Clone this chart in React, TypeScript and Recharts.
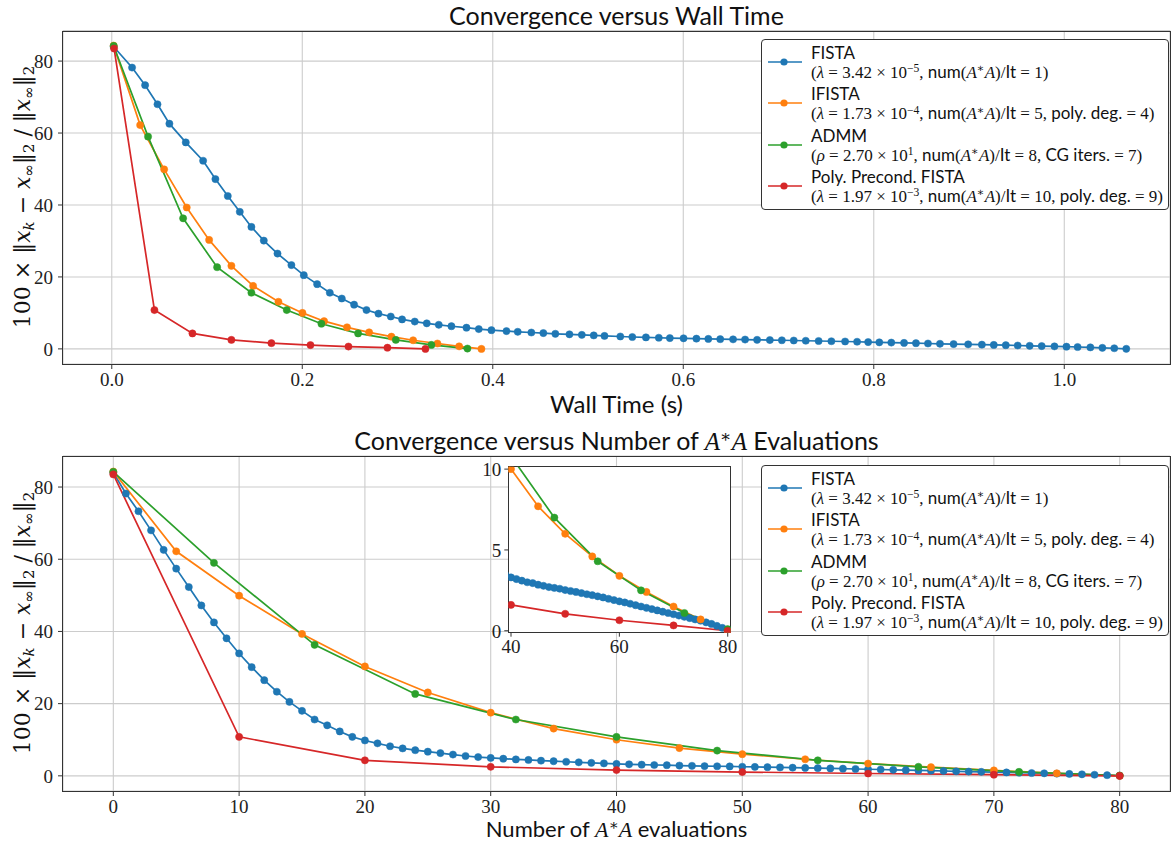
import React from 'react';
import { LineChart, Line, XAxis, YAxis, CartesianGrid } from 'recharts';

const COLORS = ['#1f77b4', '#ff7f0e', '#2ca02c', '#d62728'];
const methodNames = ['FISTA', 'IFISTA', 'ADMM', 'Poly. Precond. FISTA'];
const evalsPerIter = [1, 5, 8, 10];

// legend parameter text pieces
const paramSymbols = ['λ', 'λ', 'ρ', 'λ'];
const paramMantissas = ['3.42', '1.73', '2.70', '1.97'];
const paramExponents = ['−5', '−4', '1', '−3'];
const extraLabels = ['', 'poly. deg.', 'CG iters.', 'poly. deg.'];
const extraValues = ['', '4', '7', '9'];

// 100 * relative error per iteration
const fistaErr = [
  84.0, 78.2, 73.3, 68.0, 62.6, 57.4, 52.3, 47.2, 42.5, 38.1,
  33.9, 30.1, 26.5, 23.3, 20.5, 18.0, 15.6, 14.0, 12.3, 10.8,
  9.8, 9.0, 8.2, 7.6, 7.1, 6.7, 6.3, 5.9, 5.5, 5.2,
  4.95, 4.75, 4.55, 4.4, 4.2, 4.05, 3.9, 3.75, 3.6, 3.45,
  3.3, 3.2, 3.1, 3.0, 2.95, 2.85, 2.78, 2.7, 2.65, 2.6,
  2.52, 2.46, 2.4, 2.33, 2.26, 2.2, 2.13, 2.06, 1.98, 1.9,
  1.82, 1.75, 1.67, 1.58, 1.5, 1.42, 1.34, 1.26, 1.18, 1.1,
  1.02, 0.94, 0.86, 0.78, 0.7, 0.62, 0.52, 0.42, 0.3, 0.18,
  0.02,
];
const ifistaErr = [84.3, 62.2, 49.9, 39.3, 30.3, 23.1, 17.5, 13.1, 10.0, 7.7, 6.0, 4.6, 3.4, 2.4, 1.5, 0.7, 0.0];
const admmErr = [84.2, 59.0, 36.3, 22.7, 15.6, 10.8, 7.0, 4.3, 2.5, 1.1, 0.1];
const polyErr = [83.5, 10.8, 4.3, 2.5, 1.6, 1.05, 0.65, 0.33, 0.0];

// wall time (s) per iteration
const fistaTime = [
  0.002, 0.0213, 0.035, 0.048, 0.0605, 0.0777, 0.0959, 0.1088, 0.1218, 0.1344,
  0.1466, 0.1596, 0.174, 0.1886, 0.2016, 0.2156, 0.2289, 0.2415, 0.2544, 0.2674,
  0.28, 0.2929, 0.3048, 0.3181, 0.3307, 0.3433, 0.3566, 0.3724, 0.3853, 0.3986,
  0.4144, 0.4262, 0.4405, 0.4531, 0.4657, 0.4805, 0.4935, 0.506, 0.5173, 0.5339,
  0.5465, 0.5608, 0.5743, 0.5859, 0.6003, 0.6138, 0.6263, 0.6388, 0.6523, 0.6649,
  0.6775, 0.6909, 0.7035, 0.716, 0.7286, 0.7421, 0.7555, 0.7699, 0.7825, 0.7941,
  0.8058, 0.8184, 0.8318, 0.8443, 0.8569, 0.8695, 0.8838, 0.8991, 0.9135, 0.926,
  0.9386, 0.9511, 0.9637, 0.9763, 0.9897, 1.0023, 1.014, 1.0274, 1.04, 1.0525,
  1.0651,
];
const ifistaTime = [0.002, 0.0298, 0.055, 0.0787, 0.1022, 0.1256, 0.1484, 0.175, 0.2002, 0.2229, 0.247, 0.2702, 0.2936, 0.3164, 0.3419, 0.3647, 0.3881];
const admmTime = [0.002, 0.0381, 0.0749, 0.1106, 0.1466, 0.1837, 0.2201, 0.2586, 0.2982, 0.3356, 0.3734];
const polyTime = [0.0024, 0.0448, 0.0847, 0.1256, 0.1676, 0.2086, 0.2485, 0.2894, 0.3293];

const timeTicks = [0, 0.2, 0.4, 0.6, 0.8, 1.0];
const evalTicks = [0, 10, 20, 30, 40, 50, 60, 70, 80];
const errTicks = [0, 20, 40, 60, 80];
const insetEvalTicks = [40, 60, 80];
const insetErrTicks = [0, 5, 10];

const errs = [fistaErr, ifistaErr, admmErr, polyErr];
const times = [fistaTime, ifistaTime, admmTime, polyTime];
const timeSeries = errs.map((e, s) => e.map((v, i) => ({ x: times[s][i], y: v })));
const evalSeries = errs.map((e, s) => e.map((v, i) => ({ x: i * evalsPerIter[s], y: v })));

const serif = '"Liberation Serif", "DejaVu Serif", serif';
const sans = 'Lato, "DejaVu Sans", sans-serif';
const tickStyle = { fontFamily: serif, fontSize: 19, fill: '#222' };
const supStyle: React.CSSProperties = { fontSize: '0.68em', position: 'relative', top: '-0.5em', lineHeight: 0 };
const subStyle: React.CSSProperties = { fontSize: '0.68em', position: 'relative', top: '0.3em', lineHeight: 0 };

const renderLines = (series: { x: number; y: number }[][]) =>
  series.map((d, s) => (
    <Line
      key={s}
      data={d}
      dataKey="y"
      type="linear"
      stroke={COLORS[s]}
      strokeWidth={1.7}
      dot={{ r: 3.6, fill: COLORS[s], stroke: COLORS[s], strokeWidth: 0.5 }}
      activeDot={false}
      isAnimationActive={false}
    />
  ));

function Params({ i }: { i: number }) {
  return (
    <span style={{ fontFamily: serif }}>
      (<i>{paramSymbols[i]}</i> = {paramMantissas[i]} × 10<span style={supStyle}>{paramExponents[i]}</span>,{' '}
      <span style={{ fontFamily: sans }}>num</span>(<i>A</i><span style={supStyle}>∗</span><i>A</i>)/
      <span style={{ fontFamily: sans }}>It</span> = {evalsPerIter[i]}
      {extraLabels[i] ? (
        <>
          , <span style={{ fontFamily: sans }}>{extraLabels[i]}</span> = {extraValues[i]}
        </>
      ) : null}
      )
    </span>
  );
}

function LegendBox({ left, top }: { left: number; top: number }) {
  return (
    <div
      style={{
        position: 'absolute', left, top, width: 408, height: 171, boxSizing: 'border-box',
        border: '1.3px solid #333', borderRadius: 4, background: '#fff', color: '#111',
      }}
    >
      {methodNames.map((name, i) => (
        <div key={i} style={{ position: 'absolute', left: 0, top: i * 41.3, width: 400, height: 41 }}>
          <svg style={{ position: 'absolute', left: 5, top: 17 }} width={36} height={10}>
            <line x1={1} y1={5} x2={35} y2={5} stroke={COLORS[i]} strokeWidth={1.7} />
            <circle cx={17} cy={5} r={3.6} fill={COLORS[i]} />
          </svg>
          <div style={{ position: 'absolute', left: 49, top: 3, fontFamily: sans, fontSize: 17, lineHeight: '19px', whiteSpace: 'nowrap' }}>
            {name}
          </div>
          <div style={{ position: 'absolute', left: 49, top: 22, fontSize: 17, lineHeight: '19px', whiteSpace: 'nowrap' }}>
            <Params i={i} />
          </div>
        </div>
      ))}
    </div>
  );
}

function YLabel({ cy }: { cy: number }) {
  return (
    <div
      style={{
        position: 'absolute', left: 23, top: cy, transform: 'translate(-50%, -50%) rotate(-90deg)',
        whiteSpace: 'nowrap', fontFamily: '"DejaVu Serif", serif', fontSize: 22, color: '#111', lineHeight: '24px',
      }}
    >
      100 × ‖<i>x</i><span style={subStyle}><i>k</i></span> − <i>x</i><span style={subStyle}>∞</span>‖
      <span style={subStyle}>2</span> / ‖<i>x</i><span style={subStyle}>∞</span>‖<span style={subStyle}>2</span>
    </div>
  );
}

const textBlock = (cy: number, size: number, content: React.ReactNode) => (
  <div
    style={{
      position: 'absolute', left: 63, width: 1107, top: cy - 12, textAlign: 'center',
      fontFamily: sans, fontSize: size, lineHeight: '24px', color: '#111', whiteSpace: 'nowrap',
    }}
  >
    {content}
  </div>
);

const AStarA = (
  <span style={{ fontFamily: serif }}>
    <i>A</i><span style={supStyle}>∗</span><i>A</i>
  </span>
);

const spine = (top: number, height: number) => (
  <div
    style={{
      position: 'absolute', left: 62.4, top, width: 1108.2, height, boxSizing: 'border-box',
      border: '1.3px solid #333', pointerEvents: 'none',
    }}
  />
);

export default function App() {
  return (
    <div style={{ position: 'absolute', left: 0, top: 0, width: 1173, height: 843, background: '#fff' }}>
      {/* top panel: wall time */}
      <div style={{ position: 'absolute', left: 0, top: 0 }}>
        <LineChart width={1173} height={420} margin={{ top: 30.5, right: 3, bottom: 26, left: 18 }}>
          <CartesianGrid stroke="#cccccc" strokeWidth={1.1} />
          <XAxis
            type="number" dataKey="x" domain={[-0.0512, 1.111]} ticks={timeTicks} interval={0}
            allowDataOverflow height={30} axisLine={false} tickSize={5} tickMargin={4}
            tickLine={{ stroke: '#333' }} tick={tickStyle} tickFormatter={(v: number) => v.toFixed(1)}
          />
          <YAxis
            type="number" domain={[-4.2, 88.5]} ticks={errTicks} interval={0} allowDataOverflow
            width={45} axisLine={false} tickSize={5} tickMargin={5} tickLine={{ stroke: '#333' }} tick={tickStyle}
          />
          {renderLines(timeSeries)}
        </LineChart>
      </div>
      {spine(30.5, 334)}
      {textBlock(15, 25, 'Convergence versus Wall Time')}
      {textBlock(404, 24, 'Wall Time (s)')}
      <YLabel cy={197} />
      <LegendBox left={761} top={39} />

      {/* bottom panel: number of A*A evaluations */}
      <div style={{ position: 'absolute', left: 0, top: 430 }}>
        <LineChart width={1173} height={413} margin={{ top: 26, right: 3, bottom: 22, left: 18 }}>
          <CartesianGrid stroke="#cccccc" strokeWidth={1.1} />
          <XAxis
            type="number" dataKey="x" domain={[-4, 84]} ticks={evalTicks} interval={0}
            allowDataOverflow height={30} axisLine={false} tickSize={5} tickMargin={4}
            tickLine={{ stroke: '#333' }} tick={tickStyle}
          />
          <YAxis
            type="number" domain={[-4.2, 88.6]} ticks={errTicks} interval={0} allowDataOverflow
            width={45} axisLine={false} tickSize={5} tickMargin={5} tickLine={{ stroke: '#333' }} tick={tickStyle}
          />
          {renderLines(evalSeries)}
        </LineChart>
      </div>
      {spine(455.5, 336)}
      {textBlock(440, 25, <>Convergence versus Number of {AStarA} Evaluations</>)}
      {textBlock(829, 22, <>Number of {AStarA} evaluations</>)}
      <YLabel cy={623} />
      <LegendBox left={761} top={465} />

      {/* inset zoom */}
      <div
        style={{
          position: 'absolute', left: 507.8, top: 466.2, width: 223.6, height: 167, boxSizing: 'border-box',
          border: '1.2px solid #333', background: '#fff',
        }}
      />
      <div style={{ position: 'absolute', left: 466, top: 460 }}>
        <LineChart width={295} height={200} margin={{ top: 6.7, right: 30.3, bottom: 2.3, left: 4.3 }}>
          <XAxis
            type="number" dataKey="x" domain={[39.5, 80.55]} ticks={insetEvalTicks} interval={0}
            allowDataOverflow height={25} axisLine={false} tickSize={4} tickMargin={3}
            tickLine={{ stroke: '#333' }} tick={tickStyle}
          />
          <YAxis
            type="number" domain={[-0.12, 10.15]} ticks={insetErrTicks} interval={0} allowDataOverflow
            width={38} axisLine={false} tickSize={4} tickMargin={3} tickLine={{ stroke: '#333' }} tick={tickStyle}
          />
          {renderLines(evalSeries)}
        </LineChart>
      </div>
    </div>
  );
}
